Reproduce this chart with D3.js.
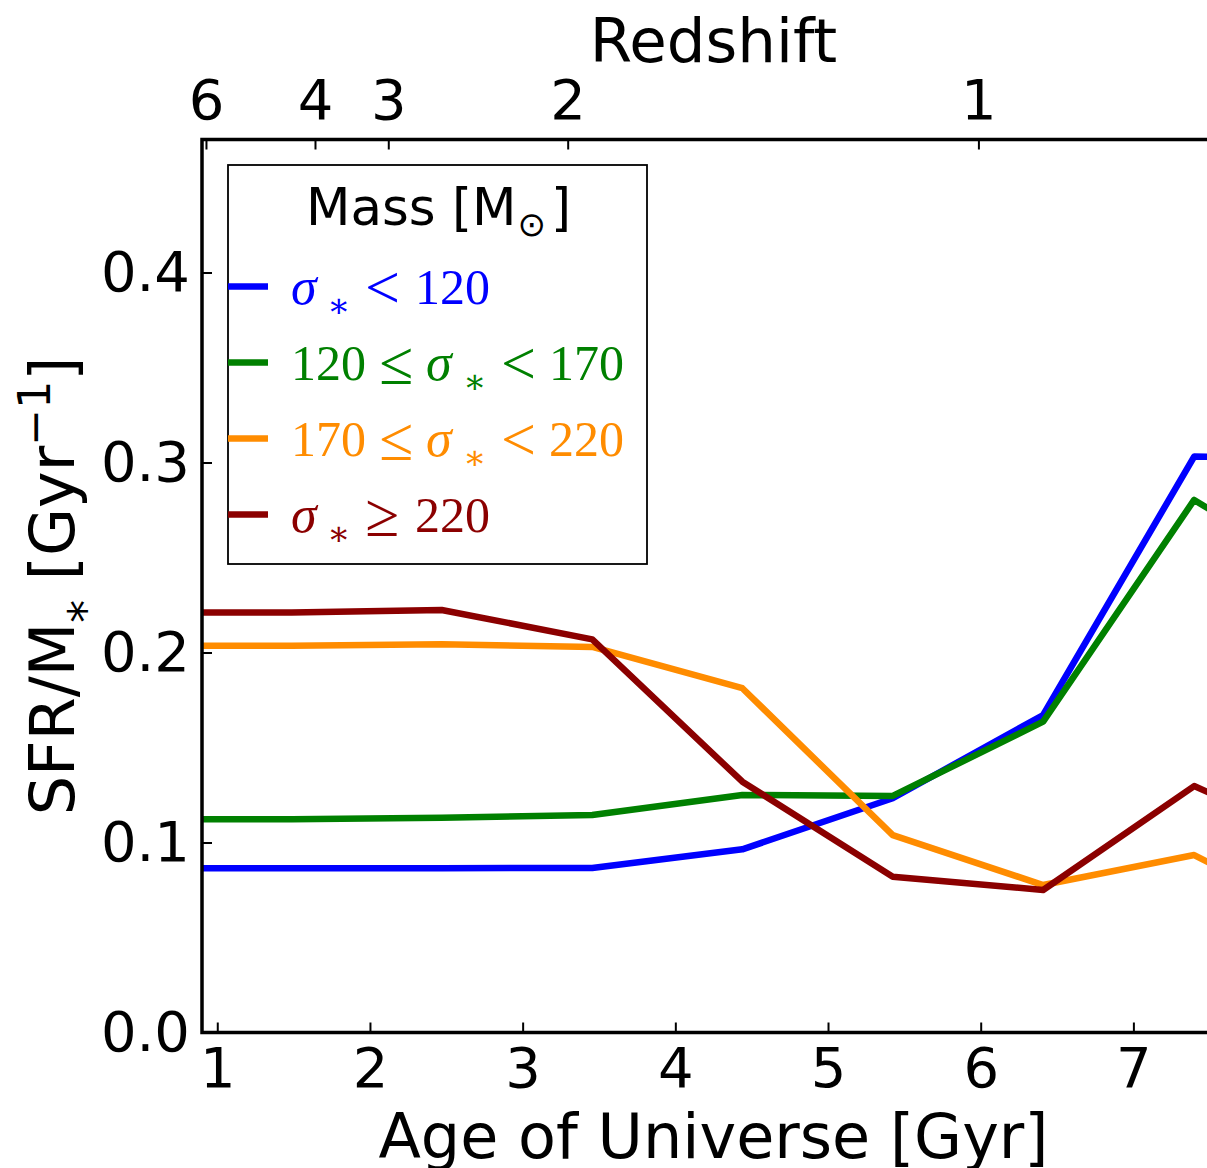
<!DOCTYPE html>
<html>
<head>
<meta charset="utf-8">
<script src="https://cdn.jsdelivr.net/npm/d3@7"></script>
<style>
  html, body { margin: 0; padding: 0; background: #fff; }
  svg { display: block; }
  text { font-family: "DejaVu Sans", sans-serif; }
  .math { font-family: "Liberation Serif", "DejaVu Serif", serif; }
</style>
</head>
<body>
<svg id="chart" width="1207" height="1168"></svg>
<script>
// Age of the Universe [Gyr] at each sample
const ages = [0.50, 1.487, 2.470, 3.456, 4.439, 5.424, 6.409, 7.398, 8.38];

// Specific star-formation rate SFR/M* [Gyr^-1] per velocity-dispersion bin
const sfrLow      = [0.0864, 0.0864, 0.0865, 0.0866, 0.0964, 0.1233, 0.1671, 0.3031, 0.302];
const sfrMidLow   = [0.1122, 0.1122, 0.1130, 0.1145, 0.1250, 0.1245, 0.1636, 0.2803, 0.232];
const sfrMidHigh  = [0.2036, 0.2036, 0.2043, 0.2029, 0.1812, 0.1039, 0.0776, 0.0934, 0.053];
const sfrHigh     = [0.2210, 0.2210, 0.2224, 0.2069, 0.1320, 0.0820, 0.0750, 0.1297, 0.095];

// Axis ticks
const ageTicks = [1, 2, 3, 4, 5, 6, 7];
const sfrTicks = [0.0, 0.1, 0.2, 0.3, 0.4];
const redshiftLabels = [6, 4, 3, 2, 1];
const redshiftAges = [0.926, 1.640, 2.120, 3.295, 5.985];

const seriesValues = [sfrLow, sfrMidLow, sfrMidHigh, sfrHigh];
const seriesColors = ["#0000ff", "#008000", "#ff8c00", "#8b0000"];

const svg = d3.select("#chart");
const plot = { left: 202, right: 1225, top: 139.5, bottom: 1032.5 };

const x = d3.scaleLinear().domain([0.9, 7.6]).range([plot.left, plot.right]);
const y = d3.scaleLinear().domain([0, 0.47]).range([plot.bottom, plot.top]);

svg.append("defs").append("clipPath").attr("id", "plotClip")
  .append("rect")
  .attr("x", plot.left).attr("y", plot.top)
  .attr("width", plot.right - plot.left).attr("height", plot.bottom - plot.top);

// Series lines
const line = d3.line().x((d, i) => x(ages[i])).y(d => y(d));
const lines = svg.append("g").attr("clip-path", "url(#plotClip)");
seriesValues.forEach((vals, k) => {
  lines.append("path")
    .datum(vals)
    .attr("d", line)
    .attr("fill", "none")
    .attr("stroke", seriesColors[k])
    .attr("stroke-width", 6.5)
    .attr("stroke-linejoin", "round");
});

// Axes with inward ticks
const tickFont = 56;
function styleAxis(g) {
  g.select(".domain").remove();
  g.selectAll(".tick line").attr("stroke", "#000").attr("stroke-width", 2);
  g.selectAll(".tick text").attr("fill", "#000")
    .style("font-family", "'DejaVu Sans', sans-serif").style("font-size", tickFont + "px");
}

svg.append("g")
  .attr("transform", `translate(0,${plot.bottom})`)
  .call(d3.axisBottom(x).tickValues(ageTicks).tickFormat(d3.format("d")).tickSize(-10).tickPadding(15))
  .call(styleAxis);

svg.append("g")
  .attr("transform", `translate(${plot.left},0)`)
  .call(d3.axisLeft(y).tickValues(sfrTicks).tickFormat(d3.format(".1f")).tickSize(-10).tickPadding(12))
  .call(styleAxis);

svg.append("g")
  .attr("transform", `translate(0,${plot.top})`)
  .call(d3.axisTop(x).tickValues(redshiftAges)
    .tickFormat((d, i) => redshiftLabels[i]).tickSize(-10).tickPadding(21))
  .call(styleAxis);

// Spines
const spines = svg.append("g").attr("stroke", "#000").attr("stroke-width", 3.5).attr("fill", "none");
spines.append("path").attr("d",
  `M${plot.right},${plot.top}H${plot.left}V${plot.bottom}H${plot.right}`)
  .attr("stroke-linecap", "square");

// Axis titles
svg.append("text")
  .attr("x", (plot.left + plot.right) / 2).attr("y", 1158)
  .attr("text-anchor", "middle").style("font-size", "62px")
  .text("Age of Universe [Gyr]");

svg.append("text")
  .attr("x", (plot.left + plot.right) / 2).attr("y", 62)
  .attr("text-anchor", "middle").style("font-size", "61px")
  .text("Redshift");

const ylab = svg.append("text")
  .attr("transform", `translate(74,${(plot.top + plot.bottom) / 2}) rotate(-90)`)
  .attr("text-anchor", "middle").style("font-size", "62px");
ylab.append("tspan").text("SFR/M");
ylab.append("tspan").attr("dy", 27).style("font-size", "46px").text("*");
ylab.append("tspan").attr("dy", -27).text(" [Gyr");
ylab.append("tspan").attr("dy", -24).style("font-size", "44px").text("\u22121");
ylab.append("tspan").attr("dy", 24).text("]");

// Legend
const legend = svg.append("g");
legend.append("rect")
  .attr("x", 228).attr("y", 165).attr("width", 419).attr("height", 399)
  .attr("fill", "#fff").attr("stroke", "#000").attr("stroke-width", 1.8);

const title = legend.append("text")
  .attr("x", 306).attr("y", 225).style("font-size", "51.5px");
title.append("tspan").text("Mass [M");
title.append("tspan").attr("dy", 11).attr("dx", 1).style("font-size", "34px").text("\u2299");
title.append("tspan").attr("dy", -11).attr("dx", 5).text("]");

// Label pieces: [text, kind, offset from label start]
const legendPieces = [
  [["\u03c3", "it", 0], ["\u2217", "sub", 36], ["<", "rel", 74], ["120", "rm", 124]],
  [["120", "rm", 0], ["\u2264", "rel", 88], ["\u03c3", "it", 135], ["\u2217", "sub", 172], ["<", "rel", 210], ["170", "rm", 258]],
  [["170", "rm", 0], ["\u2264", "rel", 88], ["\u03c3", "it", 135], ["\u2217", "sub", 172], ["<", "rel", 210], ["220", "rm", 258]],
  [["\u03c3", "it", 0], ["\u2217", "sub", 36], ["\u2265", "rel", 74], ["220", "rm", 124]]
];

const entryY0 = 286.5, entryStep = 76;
seriesColors.forEach((c, k) => {
  const ly = entryY0 + k * entryStep;
  legend.append("line")
    .attr("x1", 228).attr("x2", 268).attr("y1", ly).attr("y2", ly)
    .attr("stroke", c).attr("stroke-width", 6.5);
  const base = ly + 17;
  legendPieces[k].forEach(([t, kind, off]) => {
    const el = legend.append("text").attr("class", "math")
      .attr("x", 291 + off).attr("fill", c);
    if (kind === "it") {
      el.attr("y", base).style("font-size", "52px").style("font-style", "italic");
    } else if (kind === "sub") {
      el.attr("y", base + 13).style("font-size", "34px")
        .style("font-family", "'DejaVu Serif', serif");
    } else if (kind === "rel") {
      el.attr("y", base + 4).style("font-size", "62px");
    } else {
      el.attr("y", base).style("font-size", "50px");
    }
    el.text(t);
  });
});
</script>
</body>
</html>
